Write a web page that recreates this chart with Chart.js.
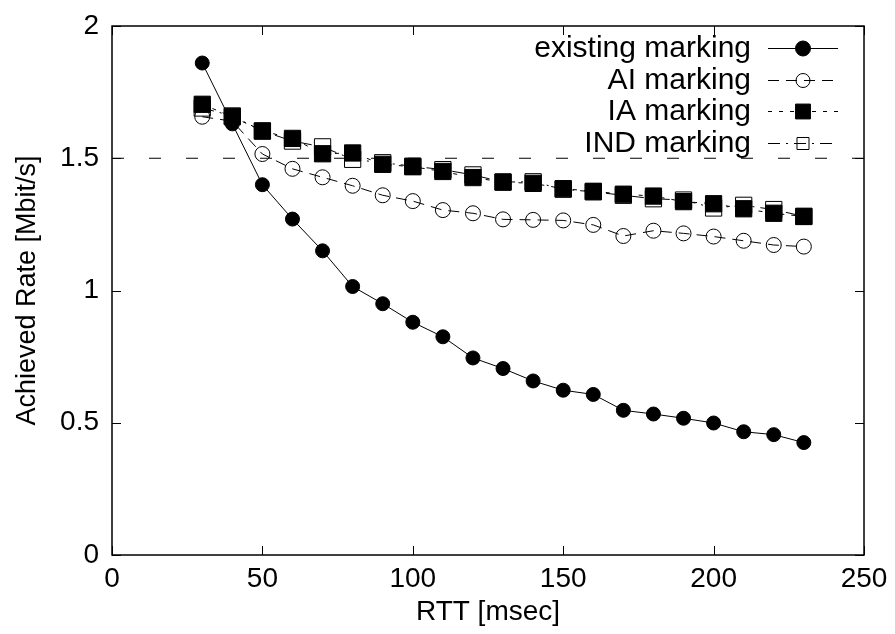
<!DOCTYPE html>
<html>
<head>
<meta charset="utf-8">
<script src="https://cdn.jsdelivr.net/npm/chart.js@4.4.0/dist/chart.umd.min.js"></script>
<style>
  html, body { margin: 0; padding: 0; background: #fff; }
  #wrap { width: 895px; height: 634px; }
</style>
</head>
<body>
<div id="wrap"><canvas id="myChart" width="895" height="634"></canvas></div>
<script>
// RTT values (msec)
const rtt = [30, 40, 50, 60, 70, 80, 90, 100, 110, 120, 130, 140, 150, 160, 170, 180, 190, 200, 210, 220, 230];
// achieved rate (Mbit/s) per marking scheme
const existingMarking = [1.86, 1.63, 1.40, 1.27, 1.15, 1.015, 0.95, 0.88, 0.825, 0.745, 0.705, 0.658, 0.623, 0.607, 0.547, 0.533, 0.517, 0.499, 0.466, 0.455, 0.425];
const aiMarking = [1.657, 1.64, 1.516, 1.46, 1.428, 1.396, 1.36, 1.338, 1.304, 1.292, 1.269, 1.267, 1.265, 1.248, 1.206, 1.226, 1.216, 1.204, 1.188, 1.172, 1.166];
const iaMarking = [1.704, 1.657, 1.603, 1.575, 1.517, 1.52, 1.477, 1.468, 1.45, 1.427, 1.41, 1.405, 1.385, 1.375, 1.364, 1.357, 1.336, 1.328, 1.309, 1.292, 1.28];
const indMarking = [1.69, 1.66, 1.603, 1.565, 1.543, 1.496, 1.483, 1.47, 1.457, 1.437, 1.41, 1.411, 1.383, 1.373, 1.36, 1.347, 1.342, 1.312, 1.322, 1.306, 1.28];
// target rate line
const targetRate = 1.5;
const xTicks = [0, 50, 100, 150, 200, 250];
const yTicks = [0, 0.5, 1, 1.5, 2];

const FONT = '"Liberation Sans", Arial, Helvetica, sans-serif';

function pts(ys) {
    return ys.map((y, i) => ({ x: rtt[i], y: y }));
}

// gnuplot style frame + inward ticks on all four sides
const framePlugin = {
    id: 'frame',
    afterDatasetsDraw(chart) {
        const ctx = chart.ctx;
        const a = chart.chartArea;
        const xs = chart.scales.x, ys = chart.scales.y;
        ctx.save();
        ctx.strokeStyle = '#000';
        ctx.lineWidth = 1;
        ctx.beginPath();
        xTicks.forEach(v => {
            const px = Math.round(xs.getPixelForValue(v)) + 0.5;
            ctx.moveTo(px, a.bottom); ctx.lineTo(px, a.bottom - 9);
            ctx.moveTo(px, a.top); ctx.lineTo(px, a.top + 9);
        });
        yTicks.forEach(v => {
            const py = Math.round(ys.getPixelForValue(v)) + 0.5;
            ctx.moveTo(a.left, py); ctx.lineTo(a.left + 9, py);
            ctx.moveTo(a.right, py); ctx.lineTo(a.right - 9, py);
        });
        ctx.stroke();
        ctx.lineWidth = 1.5;
        ctx.strokeRect(a.left, a.top, a.right - a.left, a.bottom - a.top);
        ctx.restore();
    }
};

// legend in the top right corner: text right aligned, then line sample with marker
const keyPlugin = {
    id: 'key',
    afterDatasetsDraw(chart) {
        const ctx = chart.ctx;
        const a = chart.chartArea;
        ctx.save();
        ctx.font = '30px ' + FONT;
        ctx.textAlign = 'right';
        ctx.textBaseline = 'middle';
        let row = 0;
        chart.data.datasets.forEach(ds => {
            if (ds.noKey) return;
            const y = Math.round(a.top + 22 + row * 31.5);
            const textRight = a.right - 113;
            const x0 = a.right - 96, x1 = a.right - 26;
            const cx = (x0 + x1) / 2;
            ctx.fillStyle = '#000';
            ctx.fillText(ds.label, textRight, y + 1);
            ctx.strokeStyle = '#000';
            ctx.lineWidth = 1;
            ctx.setLineDash(ds.borderDash || []);
            ctx.beginPath();
            ctx.moveTo(x0, y + 0.5); ctx.lineTo(x1, y + 0.5);
            ctx.stroke();
            ctx.setLineDash([]);
            ctx.fillStyle = ds.pointBackgroundColor;
            ctx.beginPath();
            if (ds.pointStyle === 'circle') {
                ctx.arc(cx, y + 0.5, ds.keyRadius, 0, Math.PI * 2);
            } else {
                const s = ds.keyRadius * Math.SQRT1_2;
                ctx.rect(cx - s, y + 0.5 - s, 2 * s, 2 * s);
            }
            ctx.fill();
            ctx.stroke();
            row++;
        });
        ctx.restore();
    }
};

const ctx = document.getElementById('myChart').getContext('2d');
const myChart = new Chart(ctx, {
    type: 'scatter',
    data: {
        datasets: [
            {
                label: 'target',
                noKey: true,
                data: [{ x: 0, y: targetRate }, { x: 250, y: targetRate }],
                showLine: true,
                borderColor: '#000',
                borderWidth: 1,
                borderDash: [12, 25],
                pointRadius: 0
            },
            {
                label: 'existing marking',
                data: pts(existingMarking),
                showLine: true,
                borderColor: '#000',
                borderWidth: 1,
                pointStyle: 'circle',
                pointRadius: 7,
                keyRadius: 7.5,
                pointBackgroundColor: '#000',
                pointBorderColor: '#000'
            },
            {
                label: 'AI marking',
                data: pts(aiMarking),
                showLine: true,
                borderColor: '#000',
                borderWidth: 1,
                borderDash: [11, 7],
                pointStyle: 'circle',
                pointRadius: 7.5,
                keyRadius: 7,
                pointBackgroundColor: 'rgba(0,0,0,0)',
                pointBorderColor: '#000'
            },
            {
                label: 'IA marking',
                data: pts(iaMarking),
                showLine: true,
                borderColor: '#000',
                borderWidth: 1,
                borderDash: [4, 7],
                pointStyle: 'rect',
                pointRadius: 11.5,
                keyRadius: 10.5,
                pointBackgroundColor: '#000',
                pointBorderColor: '#000'
            },
            {
                label: 'IND marking',
                data: pts(indMarking),
                showLine: true,
                borderColor: '#000',
                borderWidth: 1,
                borderDash: [12, 6, 2, 6],
                pointStyle: 'rect',
                pointRadius: 11.5,
                keyRadius: 8.5,
                pointBackgroundColor: 'rgba(0,0,0,0)',
                pointBorderColor: '#000'
            }
        ]
    },
    options: {
        responsive: false,
        animation: false,
        layout: { padding: { top: 26, right: 31, left: 0, bottom: 0 } },
        plugins: {
            legend: { display: false },
            tooltip: { enabled: false }
        },
        scales: {
            x: {
                type: 'linear',
                min: 0,
                max: 250,
                afterBuildTicks: s => { s.ticks = xTicks.map(v => ({ value: v })); },
                afterFit: s => { s.height = 79; s.paddingLeft = 0; s.paddingRight = 0; },
                grid: { display: false, drawTicks: false },
                border: { display: false },
                ticks: { color: '#000', padding: 7, maxRotation: 0, callback: v => String(v), font: { family: FONT, size: 28 } },
                title: {
                    display: true,
                    text: 'RTT [msec]',
                    color: '#000',
                    font: { family: FONT, size: 28 },
                    padding: { top: 0, bottom: 5 }
                }
            },
            y: {
                min: 0,
                max: 2,
                afterBuildTicks: s => { s.ticks = yTicks.map(v => ({ value: v })); },
                afterFit: s => { s.width = 112; s.paddingTop = 0; s.paddingBottom = 0; },
                grid: { display: false, drawTicks: false },
                border: { display: false },
                ticks: { color: '#000', padding: 13, callback: v => String(v), font: { family: FONT, size: 28 } },
                title: {
                    display: true,
                    text: 'Achieved Rate [Mbit/s]',
                    color: '#000',
                    font: { family: FONT, size: 27 },
                    padding: { top: 11, bottom: 0 }
                }
            }
        }
    },
    plugins: [framePlugin, keyPlugin]
});
</script>
</body>
</html>
